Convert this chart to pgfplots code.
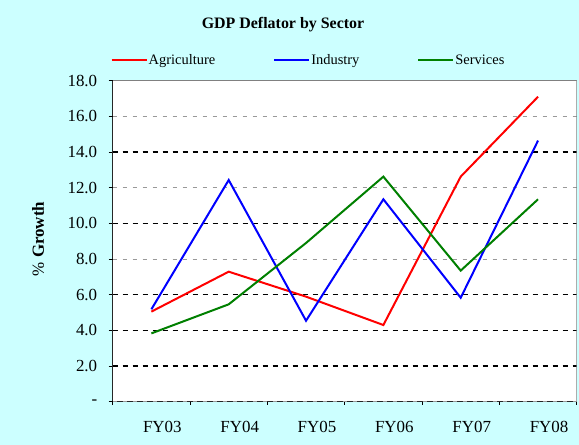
\documentclass[border=0pt]{standalone}
\usepackage{pgfplots}
\pgfplotsset{compat=1.18}
\usepackage{fontspec}
\setmainfont{Liberation Serif}
\definecolor{bg}{HTML}{CCFFFF}
\begin{document}
\begin{tikzpicture}[x=1bp,y=1bp]
\fill[bg] (0,0) rectangle (579,445);
\node[font=\fontsize{16}{18}\selectfont\bfseries] at (283,420) {GDP Deflator by Sector};
\node[rotate=90, font=\fontsize{17}{19}\selectfont] at (38,206) {\% \textbf{Growth}};
\begin{axis}[
  at={(112.7bp,43.3bp)}, anchor=south west,
  scale only axis, width=464bp, height=321bp,
  xmin=-0.5, xmax=5.5, ymin=0, ymax=18,
  axis x line*=bottom, axis y line*=left,
  axis line style={-, black!85, line width=1bp},
  axis background/.style={fill=white},
  tick align=outside,
  major tick length=4bp, minor tick length=3bp,
  tick style={black, line width=1bp},
  xtick={0,1,2,3,4,5},
  xticklabels={FY03,FY04,FY05,FY06,FY07,FY08},
  major x tick style={draw=none},
  minor xtick={-0.5,0.5,1.5,2.5,3.5,4.5,5.5},
  xticklabel style={font=\fontsize{17}{19}\selectfont, anchor=north, yshift=-12bp, xshift=11bp},
  ytick={2,4,6,10,14},
  yticklabels={2.0,4.0,6.0,10.0,14.0},
  extra y ticks={0,8,12,16,18},
  extra y tick labels={-,8.0,12.0,16.0,18.0},
  extra y tick style={grid style={gray!80, dash pattern=on 4bp off 6bp, line width=0.9bp}},
  yticklabel style={font=\fontsize{17}{19}\selectfont, xshift=-8bp},
  ymajorgrids,
  grid style={black, dash pattern=on 5bp off 5bp, line width=1.4bp},
  legend columns=3,
  legend style={at={(0.421,1.0645)}, anchor=center, draw=none, fill=none,
    font=\fontsize{14.5}{16}\selectfont,
    nodes={inner sep=1bp},
    /tikz/every even column/.append style={column sep=57bp}},
  legend image code/.code={\draw[#1] (0bp,0bp) -- (35bp,0bp);},
]
\addplot[red, line width=2bp] coordinates {(0,5.05) (1,7.29) (2,5.89) (3,4.30) (4,12.62) (5,17.1)};
\addlegendentry{Agriculture}
\addplot[blue, line width=2bp] coordinates {(0,5.18) (1,12.43) (2,4.54) (3,11.35) (4,5.83) (5,14.64)};
\addlegendentry{Industry}
\addplot[green!50!black, line width=2bp] coordinates {(0,3.83) (1,5.46) (2,8.9) (3,12.62) (4,7.35) (5,11.35)};
\addlegendentry{Services}
\draw[gray, line width=1bp] (rel axis cs:0,1) -- (rel axis cs:1,1) -- (rel axis cs:1,0);
\end{axis}
\end{tikzpicture}
\end{document}
